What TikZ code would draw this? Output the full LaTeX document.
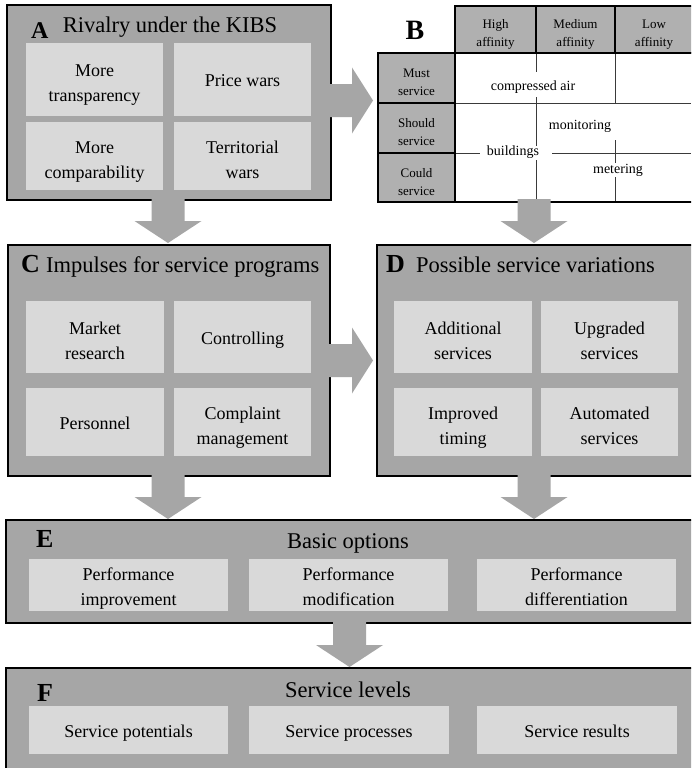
\documentclass[tikz,border=0pt]{standalone}
\usepackage{fontspec}
\setmainfont{Liberation Serif}
\usetikzlibrary{calc}

\definecolor{panelgray}{HTML}{A6A6A6}
\definecolor{cellgray}{HTML}{D9D9D9}
\definecolor{headgray}{HTML}{B0B0B0}
\definecolor{gridgray}{HTML}{3A3A3A}
\definecolor{arrowgray}{HTML}{A6A6A6}

% struts that fix the height and depth of every label line
\newcommand\cellstrut{\rule[-5pt]{0pt}{24pt}}
\newcommand\headstrut{\rule[-4pt]{0pt}{20pt}}
% taller first line for two-line labels, so they sit a little lower
\newcommand\celltop{\rule{0pt}{24pt}}
\newcommand\celltopflat{\rule{0pt}{21.5pt}}
\newcommand\headtop{\rule{0pt}{21pt}}

\tikzset{
  panel/.style={draw=black, line width=2.5pt, fill=panelgray, anchor=north west,
                inner sep=0pt, outer sep=0pt},
  cell/.style={fill=cellgray, anchor=north west, inner sep=0pt, outer sep=0pt,
               align=center, font=\fontsize{18}{25}\selectfont,
               execute at begin node=\cellstrut, execute at end node=\cellstrut},
  paneltitle/.style={font=\fontsize{22.5}{26}\selectfont, inner sep=0pt},
  panelletter/.style={font=\fontsize{26}{28}\selectfont\bfseries, inner sep=0pt, anchor=base west},
  headcell/.style={draw=black, line width=2pt, fill=headgray, anchor=north west,
                   inner sep=0pt, outer sep=0pt, align=center,
                   font=\fontsize{13}{18}\selectfont,
                   execute at begin node=\headstrut, execute at end node=\headstrut},
  tablebody/.style={draw=black, line width=2pt, fill=white, anchor=north west,
                    inner sep=0pt, outer sep=0pt},
  gridline/.style={draw=gridgray, line width=0.9pt},
  bodytext/.style={font=\fontsize{14}{16}\selectfont, inner sep=0pt},
  arrowfill/.style={fill=arrowgray},
}

% block arrow pointing down: #1 start of shaft, #2 tip
\newcommand\blkdown[2]{%
  \fill[arrowfill] ($(#1)+(-16.5,0)$) -- ($(#2)+(-16.5,-22)$) -- ($(#2)+(-33.5,-22)$)
    -- (#2) -- ($(#2)+(33.5,-22)$) -- ($(#2)+(16.5,-22)$) -- ($(#1)+(16.5,0)$) -- cycle;}
% block arrow pointing right: #1 start of shaft, #2 tip
\newcommand\blkright[2]{%
  \fill[arrowfill] ($(#1)+(0,-16.5)$) -- ($(#2)+(-21,-16.5)$) -- ($(#2)+(-21,-33)$)
    -- (#2) -- ($(#2)+(-21,33)$) -- ($(#2)+(-21,16.5)$) -- ($(#1)+(0,16.5)$) -- cycle;}

\begin{document}
\begin{tikzpicture}[x=1pt, y=-1pt]
\useasboundingbox (0,0) rectangle (691,768);
\fill[white] (0,0) rectangle (691,768);
\clip (0,0) rectangle (691,768);

% ---------- A: rivalry ----------
\node[panel, minimum width=324pt, minimum height=195pt] (A) at (7,5) {};
\node[panelletter, font=\fontsize{24}{26}\selectfont\bfseries] (Alet) at (31,39) {A};
\node[paneltitle, anchor=base] (Atitle) at (170,33) {Rivalry under the KIBS};
\node[cell, minimum width=137pt, minimum height=73pt] (A1) at (26,43) {\celltop More\\transparency};
\node[cell, minimum width=137pt, minimum height=73pt] (A2) at (174,43) {Price wars};
\node[cell, minimum width=137pt, minimum height=68pt] (A3) at (26,122) {\celltop More\\comparability};
\node[cell, minimum width=137pt, minimum height=68pt] (A4) at (174,122) {\celltop Territorial\\wars};

% ---------- B: service matrix ----------
\node[font=\fontsize{28}{30}\selectfont\bfseries, inner sep=0pt, anchor=base] (Blet) at (415,40) {B};
\node[headcell, minimum width=81pt, minimum height=47pt] (H1) at (455,6) {\headtop High\\affinity};
\node[headcell, minimum width=79pt, minimum height=47pt] (H2) at (536,6) {\headtop Medium\\affinity};
\node[headcell, minimum width=78pt, minimum height=47pt] (H3) at (615,6) {\headtop Low\\affinity};
\node[tablebody, minimum width=260pt, minimum height=149pt] (Bbody) at (455,53) {};
\node[headcell, minimum width=77pt, minimum height=50pt] (R1) at (378,53) {\headtop Must\\service};
\node[headcell, minimum width=77pt, minimum height=50pt] (R2) at (378,103) {\headtop Should\\service};
\node[headcell, minimum width=77pt, minimum height=49pt] (R3) at (378,153) {\headtop Could\\service};

% inner grid of the matrix, interrupted around the labels
\draw[gridline] (536,54) -- (536,72)  (536,97) -- (536,146)  (536,160) -- (536,201);
\draw[gridline] (615,54) -- (615,103) (615,140) -- (615,163) (615,177) -- (615,201);
\draw[gridline] (456,103) -- (691,103);
\draw[gridline] (456,153) -- (480,153) (552,153) -- (691,153);

\node[bodytext] (compair) at (533,87) {compressed air};
\node[bodytext] (monit) at (580,126) {monitoring};
\node[bodytext] (build) at (513,152) {buildings};
\node[bodytext] (meter) at (618,170) {metering};

% ---------- C: impulses ----------
\node[panel, minimum width=322pt, minimum height=231pt] (C) at (8,245) {};
\node[panelletter] (Clet) at (21,272) {C};
\node[paneltitle, anchor=base west] (Ctitle) at (46,272) {Impulses for service programs};
\node[cell, minimum width=138pt, minimum height=72pt] (C1) at (26,301) {\celltop Market\\research};
\node[cell, minimum width=137pt, minimum height=72pt] (C2) at (174,301) {Controlling};
\node[cell, minimum width=138pt, minimum height=68pt] (C3) at (26,388) {Personnel};
\node[cell, minimum width=137pt, minimum height=68pt] (C4) at (174,388) {\celltop Complaint\\management};

% ---------- D: variations ----------
\node[panel, minimum width=330pt, minimum height=231pt] (D) at (377,245) {};
\node[panelletter] (Dlet) at (386,272) {D};
\node[paneltitle, anchor=base west] (Dtitle) at (416,272) {Possible service variations};
\node[cell, minimum width=138pt, minimum height=72pt] (D1) at (394,301) {\celltop Additional\\services};
\node[cell, minimum width=137pt, minimum height=72pt] (D2) at (541,301) {\celltop Upgraded\\services};
\node[cell, minimum width=138pt, minimum height=68pt] (D3) at (394,388) {\celltop Improved\\timing};
\node[cell, minimum width=137pt, minimum height=68pt] (D4) at (541,388) {\celltop Automated\\services};

% ---------- E: basic options ----------
\node[panel, minimum width=700pt, minimum height=103pt] (E) at (6,520) {};
\node[panelletter] (Elet) at (36,547) {E};
\node[paneltitle, anchor=base] (Etitle) at (348,548) {Basic options};
\node[cell, minimum width=199pt, minimum height=48pt] (E1) at (29,559) {\celltopflat Performance\\improvement};
\node[cell, minimum width=199pt, minimum height=48pt] (E2) at (249,559) {\celltopflat Performance\\modification};
\node[cell, minimum width=199pt, minimum height=48pt] (E3) at (477,559) {\celltopflat Performance\\differentiation};

% ---------- F: service levels ----------
\node[panel, minimum width=700pt, minimum height=110pt] (F) at (6,668) {};
\node[panelletter] (Flet) at (37,701) {F};
\node[paneltitle, anchor=base] (Ftitle) at (348,697) {Service levels};
\node[cell, minimum width=199pt, minimum height=48pt] (F1) at (29,706) {Service potentials};
\node[cell, minimum width=200pt, minimum height=48pt] (F2) at (249,706) {Service processes};
\node[cell, minimum width=200pt, minimum height=48pt] (F3) at (477,706) {Service results};

% ---------- connecting block arrows ----------
\coordinate (abS) at ($(A.east)+(-3,-2)$);
\coordinate (abT) at ($(A.east -| R1.west)+(-5,-2)$);
\blkright{abS}{abT}

\coordinate (acS) at ($(A.south)+(-1,-3)$);
\coordinate (acT) at ($(C.north)+(-1,-2)$);
\blkdown{acS}{acT}

\coordinate (bdS) at ($(Bbody.south -| D1.east)+(2,-3)$);
\coordinate (bdT) at ($(D.north -| D1.east)+(2,-2)$);
\blkdown{bdS}{bdT}

\coordinate (cdS) at ($(C.east)+(-3,0)$);
\coordinate (cdT) at ($(C.east -| D.west)+(-4,0)$);
\blkright{cdS}{cdT}

\coordinate (ceS) at ($(C.south)+(-1,-3)$);
\coordinate (ceT) at ($(E.north -| C.south)+(-1,-1)$);
\blkdown{ceS}{ceT}

\coordinate (deS) at ($(D.south -| D1.east)+(2,-3)$);
\coordinate (deT) at ($(E.north -| D1.east)+(2,-1)$);
\blkdown{deS}{deT}

\coordinate (efS) at ($(E.south -| E2.center)+(1,-3)$);
\coordinate (efT) at ($(F.north -| E2.center)+(1,-1)$);
\blkdown{efS}{efT}
\end{tikzpicture}
\end{document}
